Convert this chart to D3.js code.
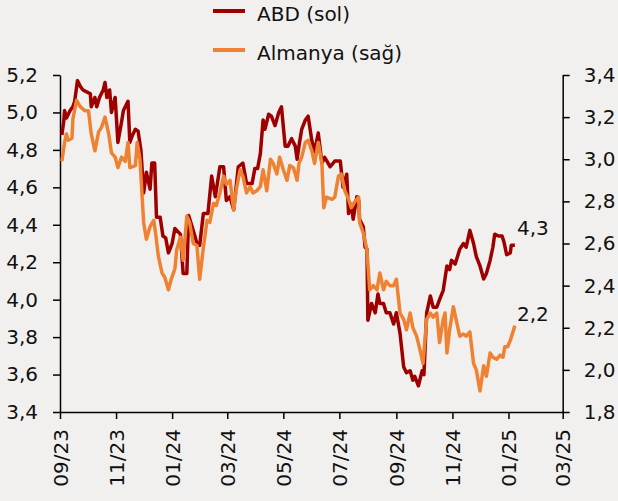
<!DOCTYPE html>
<html>
<head>
<meta charset="utf-8">
<script src="https://cdn.jsdelivr.net/npm/d3@7"></script>
<style>
  html, body { margin: 0; padding: 0; background: #f2f0ee; }
  svg { display: block; font-family: "DejaVu Sans", sans-serif; }
</style>
</head>
<body>
<svg id="chart" width="618" height="501"></svg>
<script>
const seriesNames = ["ABD (sol)", "Almanya (sağ)"]
const seriesColors = ["#9e0000", "#ef8232"]

const leftTicks = [3.4, 3.6, 3.8, 4.0, 4.2, 4.4, 4.6, 4.8, 5.0, 5.2]
const rightTicks = [1.8, 2.0, 2.2, 2.4, 2.6, 2.8, 3.0, 3.2, 3.4]
const xDomain = ["2023-09-01", "2025-03-01"]

// ABD 10Y (left axis)
const usDates = [
  "2023-09-03","2023-09-05","2023-09-06","2023-09-08","2023-09-12","2023-09-15","2023-09-17","2023-09-20","2023-09-23","2023-09-26","2023-09-30",
  "2023-10-04","2023-10-05","2023-10-09","2023-10-11","2023-10-14","2023-10-18","2023-10-20","2023-10-22","2023-10-25","2023-10-27","2023-10-31",
  "2023-11-03","2023-11-07","2023-11-09","2023-11-14","2023-11-16","2023-11-19","2023-11-22","2023-11-25","2023-11-28",
  "2023-12-01","2023-12-04","2023-12-08","2023-12-10","2023-12-13","2023-12-15","2023-12-19","2023-12-22","2023-12-25","2023-12-28",
  "2024-01-01","2024-01-04","2024-01-10","2024-01-13","2024-01-17","2024-01-19","2024-01-24","2024-01-28","2024-01-31",
  "2024-02-04","2024-02-09","2024-02-13","2024-02-17","2024-02-22","2024-02-26","2024-02-29",
  "2024-03-04","2024-03-08","2024-03-13","2024-03-18","2024-03-22","2024-03-28","2024-03-31",
  "2024-04-03","2024-04-06","2024-04-09","2024-04-11","2024-04-15","2024-04-18","2024-04-22","2024-04-26","2024-04-29",
  "2024-05-03","2024-05-06","2024-05-10","2024-05-14","2024-05-16","2024-05-18","2024-05-21","2024-05-25","2024-05-28",
  "2024-06-01","2024-06-04","2024-06-08","2024-06-12","2024-06-15","2024-06-21","2024-06-26",
  "2024-07-02","2024-07-05","2024-07-09","2024-07-11","2024-07-14","2024-07-16","2024-07-20","2024-07-22","2024-07-23","2024-07-27","2024-07-29","2024-07-31",
  "2024-08-01","2024-08-05","2024-08-09","2024-08-12","2024-08-14","2024-08-18","2024-08-21","2024-08-25","2024-08-29",
  "2024-09-01","2024-09-05","2024-09-09","2024-09-12","2024-09-16","2024-09-19","2024-09-21","2024-09-25","2024-09-29",
  "2024-10-01","2024-10-04","2024-10-08","2024-10-11","2024-10-15","2024-10-18","2024-10-22","2024-10-26","2024-10-29","2024-10-31",
  "2024-11-04","2024-11-09","2024-11-13","2024-11-16","2024-11-20","2024-11-24","2024-11-27",
  "2024-12-01","2024-12-05","2024-12-08","2024-12-12","2024-12-15","2024-12-17","2024-12-21","2024-12-25","2024-12-27","2024-12-30",
  "2025-01-03","2025-01-04","2025-01-08"
]
const usValues = [
  4.88,4.95,5.01,4.97,5.01,5.03,5.06,5.17,5.14,5.12,5.11,
  5.10,5.03,5.08,5.03,5.08,5.12,5.16,5.08,5.12,5.00,5.08,
  4.84,4.95,5.01,5.06,4.84,4.88,4.91,4.90,4.80,
  4.57,4.68,4.59,4.73,4.73,4.44,4.44,4.34,4.33,4.25,
  4.30,4.38,4.35,4.14,4.14,4.45,4.37,4.30,4.29,
  4.46,4.46,4.66,4.55,4.71,4.71,4.53,
  4.55,4.48,4.71,4.73,4.62,4.62,4.70,
  4.70,4.78,4.96,4.91,4.99,4.98,4.93,5.00,5.03,
  4.82,4.82,4.86,4.82,4.75,4.82,4.91,4.96,4.98,
  4.85,4.79,4.89,4.73,4.76,4.71,4.74,
  4.74,4.60,4.67,4.46,4.51,4.43,4.55,4.53,4.43,4.39,4.28,4.27,
  3.89,3.98,3.93,4.03,3.98,3.98,3.93,3.93,3.87,
  3.93,3.82,3.64,3.61,3.62,3.57,3.59,3.54,3.62,
  3.60,3.93,4.02,3.96,3.96,4.00,4.05,4.18,4.16,4.21,
  4.19,4.27,4.30,4.28,4.37,4.30,4.23,
  4.18,4.11,4.14,4.21,4.28,4.35,4.34,4.34,4.31,4.24,
  4.25,4.29,4.29
]

// Almanya 10Y (right axis)
const deDates = [
  "2023-09-03","2023-09-06","2023-09-08","2023-09-10","2023-09-14","2023-09-15","2023-09-19","2023-09-23","2023-09-28",
  "2023-10-02","2023-10-05","2023-10-09","2023-10-13","2023-10-16","2023-10-20","2023-10-24","2023-10-27","2023-10-31",
  "2023-11-03","2023-11-07","2023-11-11","2023-11-14","2023-11-16","2023-11-22","2023-11-24","2023-11-27",
  "2023-12-01","2023-12-04","2023-12-08","2023-12-12","2023-12-14","2023-12-17","2023-12-21","2023-12-24","2023-12-28","2023-12-31",
  "2024-01-04","2024-01-06","2024-01-10","2024-01-13","2024-01-17","2024-01-20","2024-01-24","2024-01-28","2024-01-31",
  "2024-02-04","2024-02-08","2024-02-11","2024-02-15","2024-02-18","2024-02-22","2024-02-26","2024-02-29",
  "2024-03-04","2024-03-08","2024-03-11","2024-03-15","2024-03-18","2024-03-22","2024-03-26","2024-03-29",
  "2024-04-02","2024-04-06","2024-04-09","2024-04-13","2024-04-17","2024-04-20","2024-04-24","2024-04-27",
  "2024-05-01","2024-05-05","2024-05-08","2024-05-12","2024-05-16","2024-05-18","2024-05-21","2024-05-25","2024-05-28",
  "2024-06-01","2024-06-04","2024-06-08","2024-06-12","2024-06-14","2024-06-17","2024-06-23","2024-06-26","2024-06-30",
  "2024-07-03","2024-07-07","2024-07-11","2024-07-14","2024-07-18","2024-07-22","2024-07-23","2024-07-27","2024-07-31",
  "2024-08-03","2024-08-07","2024-08-11","2024-08-14","2024-08-18","2024-08-21","2024-08-25","2024-08-29",
  "2024-09-01","2024-09-05","2024-09-09","2024-09-12","2024-09-16","2024-09-19","2024-09-23","2024-09-27","2024-09-30",
  "2024-10-04","2024-10-08","2024-10-11","2024-10-15","2024-10-18","2024-10-22","2024-10-24","2024-10-26","2024-10-29",
  "2024-11-02","2024-11-06","2024-11-09","2024-11-13","2024-11-16","2024-11-20","2024-11-24","2024-11-27",
  "2024-12-01","2024-12-05","2024-12-08","2024-12-12","2024-12-15","2024-12-19","2024-12-23","2024-12-26","2024-12-28","2024-12-31",
  "2025-01-03","2025-01-08"
]
const deValues = [
  2.99,3.08,3.12,3.09,3.10,3.19,3.28,3.25,3.23,
  3.23,3.12,3.04,3.13,3.15,3.20,3.12,3.03,3.01,
  2.96,3.01,2.99,3.08,2.96,2.97,3.08,3.00,
  2.70,2.62,2.68,2.71,2.65,2.54,2.46,2.44,2.38,2.43,
  2.48,2.57,2.63,2.52,2.73,2.70,2.60,2.59,2.43,
  2.58,2.71,2.70,2.79,2.78,2.84,2.92,2.88,
  2.90,2.76,2.86,2.95,2.92,2.84,2.87,2.84,
  2.85,2.87,2.95,2.85,3.00,2.98,2.93,3.01,
  2.95,2.90,2.97,2.96,2.90,2.98,3.01,3.08,3.09,
  3.04,2.98,3.08,2.98,2.77,2.82,2.81,2.82,2.92,
  2.93,2.85,2.81,2.77,2.80,2.82,2.70,2.65,2.57,
  2.38,2.40,2.38,2.46,2.38,2.42,2.40,2.40,
  2.43,2.27,2.24,2.19,2.27,2.20,2.16,2.09,2.03,
  2.24,2.27,2.25,2.27,2.13,2.24,2.27,2.08,2.19,
  2.30,2.22,2.16,2.17,2.16,2.18,2.03,2.00,
  1.90,2.02,1.97,2.08,2.06,2.05,2.07,2.06,2.11,2.11,
  2.14,2.21
]

const parse = d3.timeParse("%Y-%m-%d")
const locale = d3.formatLocale({ decimal: ",", thousands: ".", grouping: [3], currency: ["", ""] })
const fmt1 = locale.format(".1f")

const svg = d3.select("#chart")
const plot = { left: 60, right: 562.7, top: 75, bottom: 412 }

const x = d3.scaleTime()
  .domain(xDomain.map(parse))
  .range([plot.left, plot.right])
const yLeft = d3.scaleLinear().domain([3.4, 5.2]).range([plot.bottom, plot.top])
const yRight = d3.scaleLinear().domain([1.8, 3.4]).range([plot.bottom, plot.top])

const us = usDates.map((d, i) => ({ date: parse(d), value: usValues[i] }))
const de = deDates.map((d, i) => ({ date: parse(d), value: deValues[i] }))

// Axes
const styleAxis = g => {
  g.select(".domain").attr("stroke", "#000").attr("stroke-width", 1.5)
  g.selectAll(".tick line").attr("stroke", "#000").attr("stroke-width", 1.5)
  g.selectAll(".tick text").attr("fill", "#111").attr("font-size", 20)
}

svg.append("g")
  .attr("transform", `translate(${plot.left},0)`)
  .call(d3.axisLeft(yLeft).tickValues(leftTicks).tickFormat(fmt1).tickSize(7).tickSizeOuter(0).tickPadding(15))
  .call(styleAxis)
  .attr("font-family", null)

svg.append("g")
  .attr("transform", `translate(${plot.right},0)`)
  .call(d3.axisRight(yRight).tickValues(rightTicks).tickFormat(fmt1).tickSize(7).tickSizeOuter(0).tickPadding(14))
  .call(styleAxis)
  .attr("font-family", null)

svg.append("g")
  .attr("transform", `translate(0,${plot.bottom})`)
  .call(d3.axisBottom(x).ticks(d3.timeMonth.every(2)).tickFormat(d3.timeFormat("%m/%y")).tickSize(7).tickSizeOuter(0))
  .call(styleAxis)
  .attr("font-family", null)
  .selectAll(".tick text")
  .attr("transform", "rotate(-90)")
  .attr("x", -17)
  .attr("y", 0)
  .attr("dy", "0.35em")
  .style("text-anchor", "end")

// Lines
const lineLeft = d3.line().x(d => x(d.date)).y(d => yLeft(d.value))
const lineRight = d3.line().x(d => x(d.date)).y(d => yRight(d.value))

svg.append("path")
  .datum(us)
  .attr("d", lineLeft)
  .attr("fill", "none")
  .attr("stroke", seriesColors[0])
  .attr("stroke-width", 3.5)
  .attr("stroke-linejoin", "round")

svg.append("path")
  .datum(de)
  .attr("d", lineRight)
  .attr("fill", "none")
  .attr("stroke", seriesColors[1])
  .attr("stroke-width", 3.5)
  .attr("stroke-linejoin", "round")

// End labels
const usLast = us[us.length - 1]
const deLast = de[de.length - 1]
svg.append("text")
  .attr("x", x(usLast.date) + 2)
  .attr("y", yLeft(usLast.value) - 10)
  .attr("font-size", 20)
  .attr("fill", "#111")
  .text(fmt1(usLast.value))
svg.append("text")
  .attr("x", x(deLast.date) + 2)
  .attr("y", yRight(deLast.value) - 5)
  .attr("font-size", 20)
  .attr("fill", "#111")
  .text(fmt1(deLast.value))

// Legend
const legend = svg.append("g")
seriesNames.forEach((name, i) => {
  const ly = 11 + i * 39
  legend.append("line")
    .attr("x1", 213).attr("x2", 245)
    .attr("y1", ly).attr("y2", ly)
    .attr("stroke", seriesColors[i])
    .attr("stroke-width", 4)
  legend.append("text")
    .attr("x", 257)
    .attr("y", ly + 10)
    .attr("font-size", 20)
    .attr("fill", "#111")
    .text(name)
})
</script>
</body>
</html>
